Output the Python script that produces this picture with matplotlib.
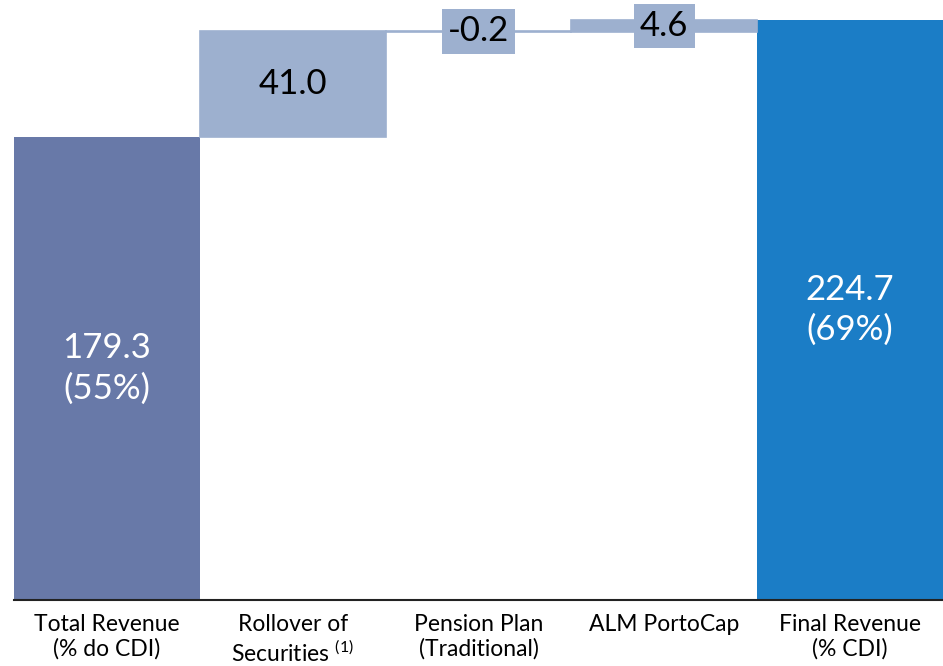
import numpy as np
from matplotlib import pyplot as plt

plt.rcParams['font.family'] = ['Lato', 'DejaVu Sans']

categories = ['Total Revenue\n(% do CDI)',
              'Rollover of\nSecurities $^{\\mathregular{(1)}}$',
              'Pension Plan\n(Traditional)',
              'ALM PortoCap',
              'Final Revenue\n(% CDI)']
start_value = 179.3
steps = [41.0, -0.2, 4.6]
end_value = 224.7
start_pct = '55%'
end_pct = '69%'

c_total = '#6879a8'
c_step = '#9db0cf'
c_final = '#1b7dc6'

fig = plt.figure(figsize=(9.43, 6.66), dpi=100)
ax = fig.add_axes([14 / 943, 66 / 666, 929 / 943, 600 / 666])

x = np.arange(len(categories))

# first and last columns stand on the axis
ax.bar(x[0], start_value, width=1.0, color=c_total)
ax.bar(x[-1], end_value, width=1.0, color=c_final)

# floating steps between them
level = start_value
for i, s in enumerate(steps):
    bottom = level if s >= 0 else level + s
    ax.bar(x[i + 1], abs(s), bottom=bottom, width=1.0, color=c_step,
           edgecolor=c_step, linewidth=1.2)
    mid = bottom + abs(s) / 2
    txt = '%.1f' % s
    if abs(s) < 10:
        ax.text(x[i + 1], mid, txt, ha='center', va='center', fontsize=25,
                color='black',
                bbox=dict(boxstyle='square,pad=0.18', fc=c_step, ec='none'))
    else:
        ax.text(x[i + 1], mid, txt, ha='center', va='center', fontsize=25,
                color='black')
    level += s

ax.text(x[0], start_value / 2, '%.1f\n(%s)' % (start_value, start_pct),
        ha='center', va='center', fontsize=25, color='white', linespacing=1.3)
ax.text(x[-1], end_value / 2, '%.1f\n(%s)' % (end_value, end_pct),
        ha='center', va='center', fontsize=25, color='white', linespacing=1.3)

ax.set_xlim(-0.5, len(categories) - 0.5)
ax.set_ylim(0, 232.4)
ax.set_xticks(x)
ax.set_xticklabels(categories, fontsize=16.5, linespacing=1.2)
ax.tick_params(axis='x', length=0, pad=10)
ax.set_yticks([])
for side in ['top', 'left', 'right']:
    ax.spines[side].set_visible(False)
ax.spines['bottom'].set_color('#222222')
ax.spines['bottom'].set_linewidth(1.5)

plt.savefig('out.png', dpi=100)
